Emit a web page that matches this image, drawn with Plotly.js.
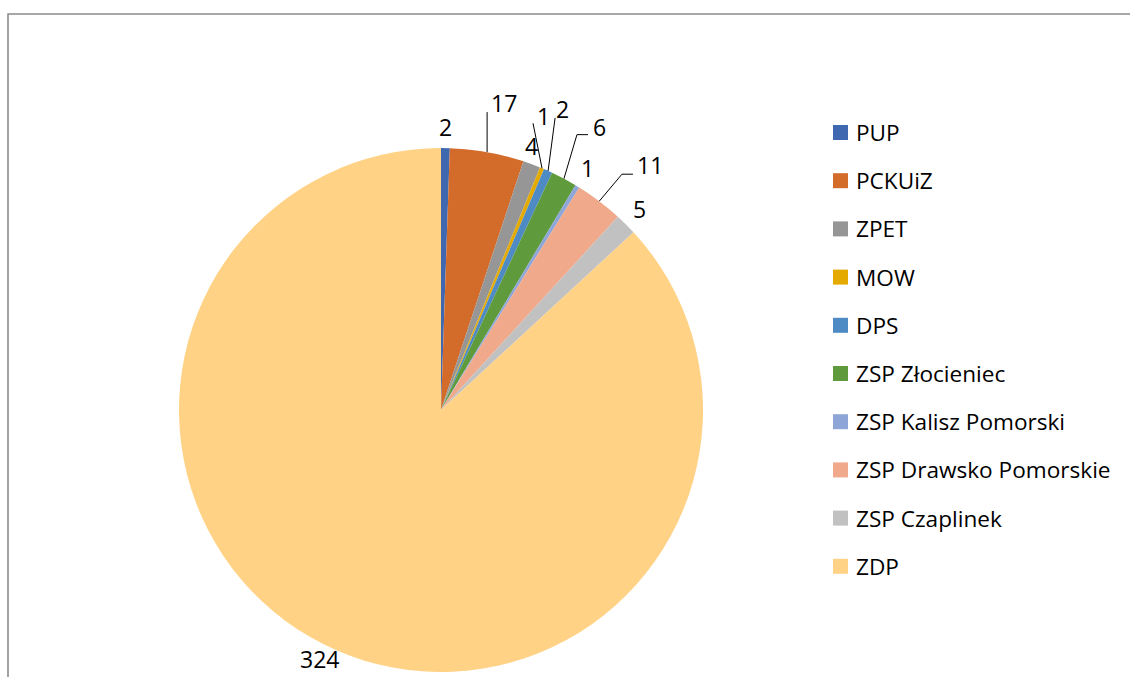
<!DOCTYPE html>
<html><head><meta charset="utf-8">
<script src="https://cdn.plot.ly/plotly-3.0.1.min.js"></script>
<style>html,body{margin:0;padding:0;background:#fff}#chart{width:1130px;height:677px}</style>
</head><body><div id="chart"></div>
<script>
// ---- data ----
const categories = ['PUP','PCKUiZ','ZPET','MOW','DPS','ZSP Złocieniec','ZSP Kalisz Pomorski','ZSP Drawsko Pomorskie','ZSP Czaplinek','ZDP'];
const values = [2,17,4,1,2,6,1,11,5,324];
const colors = ['#4068B1','#D36C2A','#969696','#E4AA00','#4E8AC4','#5F9A3C','#8EA5D7','#F0A98A','#C1C1C1','#FFD285'];

// ---- layout helpers ----
const W = 1130, H = 677;
const CX = 441, CY = 410, R = 262;
const px = x => x / W, py = y => 1 - y / H;
// labels moved away from their slice (text offset and leader knee points relative to slice edge, px)
const moved = {
  1: {text: [17, -47], path: [[0, -40]]},
  2: {text: [0, -16], path: []},
  3: {text: [1, -50], path: [[-9, -45]]},
  4: {text: [14, -60], path: [[7, -53]]},
  5: {text: [36, -50], path: [[13, -44], [24, -44]]},
  7: {text: [51, -34], path: [[22.7, -27], [33.7, -27]]},
  9: {text: [-16, 11], path: []}
};

const total = values.reduce((a, b) => a + b, 0);
const annotations = [], shapes = [];
let cum = 0;
values.forEach((v, i) => {
  const th = (cum + v / 2) / total * 2 * Math.PI;
  cum += v;
  const s = Math.sin(th), c = Math.cos(th);
  const ex = CX + R * s, ey = CY - R * c;
  let tx, ty;
  if (moved[i]) {
    tx = ex + moved[i].text[0]; ty = ey + moved[i].text[1];
    if (moved[i].path.length) {
      let d = 'M' + px(ex) + ',' + py(ey);
      moved[i].path.forEach(p => { d += ' L' + px(ex + p[0]) + ',' + py(ey + p[1]); });
      shapes.push({type: 'path', xref: 'paper', yref: 'paper', path: d, line: {color: '#000', width: 1}});
    }
  } else {
    tx = CX + (R + 19) * s; ty = CY - (R + 19) * c;
  }
  annotations.push({xref: 'paper', yref: 'paper', x: px(tx), y: py(ty), xanchor: 'center', yanchor: 'middle',
    yshift: 2, borderpad: 0, text: String(v), showarrow: false, font: {family: 'Open Sans', size: 23, color: '#000'}});
});

// legend (manual, to match spacing)
categories.forEach((name, i) => {
  const yc = 132.5 + i * 48.2;
  shapes.push({type: 'rect', xref: 'paper', yref: 'paper', x0: px(833), x1: px(848), y0: py(yc + 7.5), y1: py(yc - 7.5),
    fillcolor: colors[i], line: {width: 0}});
  annotations.push({xref: 'paper', yref: 'paper', x: px(854), y: py(yc), xanchor: 'left', yanchor: 'middle',
    text: name, showarrow: false, font: {family: 'Open Sans', size: 22.6, color: '#000'}});
});

// chart frame
shapes.push({type: 'path', xref: 'paper', yref: 'paper',
  path: 'M' + px(8) + ',' + py(700) + ' L' + px(8) + ',' + py(14) + ' L' + px(1140) + ',' + py(14),
  line: {color: '#8C8C8C', width: 1.6}});

const trace = {
  type: 'pie', labels: categories, values: values, sort: false, direction: 'clockwise', rotation: 0,
  marker: {colors: colors, line: {width: 0}}, textinfo: 'none', hoverinfo: 'label+value', showlegend: false,
  domain: {x: [px(CX - R), px(CX + R)], y: [py(CY + R), py(CY - R)]}
};

Plotly.newPlot('chart', [trace], {
  width: W, height: H, margin: {l: 0, r: 0, t: 0, b: 0},
  paper_bgcolor: '#fff', plot_bgcolor: '#fff', showlegend: false,
  annotations: annotations, shapes: shapes
}, {displayModeBar: false, staticPlot: true});
</script></body></html>
